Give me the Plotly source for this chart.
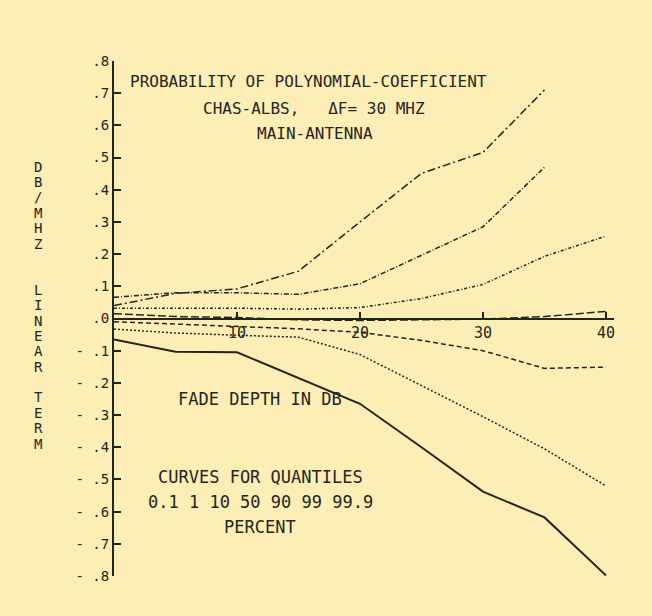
import plotly.graph_objects as go

# ---- data ----
fade_depth = [0, 5, 10, 15, 20, 25, 30, 35, 40]
q_0_1 = [-0.065, -0.103, -0.105, -0.185, -0.265, -0.400, -0.538, -0.618, -0.798]
q_1 = [-0.033, -0.045, -0.052, -0.058, -0.112, -0.208, -0.305, -0.405, -0.520]
q_10 = [-0.010, -0.018, -0.024, -0.032, -0.043, -0.068, -0.100, -0.155, -0.151]
q_50 = [0.015, 0.006, 0.003, -0.004, -0.006, -0.004, -0.002, 0.006, 0.022]
q_90 = [0.032, 0.032, 0.032, 0.029, 0.034, 0.062, 0.106, 0.193, 0.256]
q_99 = [0.066, 0.080, 0.080, 0.075, 0.108, 0.197, 0.285, 0.470, None]
q_99_9 = [0.040, 0.078, 0.092, 0.147, 0.300, 0.451, 0.516, 0.710, None]

quantile_names = ["0.1", "1", "10", "50", "90", "99", "99.9"]
series = [q_0_1, q_1, q_10, q_50, q_90, q_99, q_99_9]

x_tickvals = [10, 20, 30, 40]
x_ticktext = ["10", "20", "30", "40"]
y_tickvals = [0.8, 0.7, 0.6, 0.5, 0.4, 0.3, 0.2, 0.1, 0.0,
              -0.1, -0.2, -0.3, -0.4, -0.5, -0.6, -0.7, -0.8]
y_ticktext = [".8", ".7", ".6", ".5", ".4", ".3", ".2", ".1", ".0",
              "-\u00a0.1", "-\u00a0.2", "-\u00a0.3", "-\u00a0.4",
              "-\u00a0.5", "-\u00a0.6", "-\u00a0.7", "-\u00a0.8"]

title_lines = ["PROBABILITY OF POLYNOMIAL-COEFFICIENT",
               "CHAS-ALBS,\u00a0\u00a0\u00a0\u0394F=\u00a030\u00a0MHZ",
               "MAIN-ANTENNA"]
note_lines = ["FADE DEPTH IN DB", "CURVES FOR QUANTILES",
              "0.1 1 10 50 90 99 99.9", "PERCENT"]
y_label = "DB/MHZ  LINEAR TERM"

# ---- styling ----
ink = "#262422"
bg = "rgb(252,238,180)"
font = "DejaVu Sans Mono"
styles = [
    dict(dash="solid", width=2.0),
    dict(dash="2px,2px", width=1.5),
    dict(dash="5px,3px", width=1.5),
    dict(dash="8px,3px", width=1.5),
    dict(dash="3px,2px,1px,2px", width=1.5),
    dict(dash="5px,2px,1px,2px", width=1.5),
    dict(dash="8px,3px,2px,3px", width=1.5),
]

fig = go.Figure()
for name, ys, st in zip(quantile_names, series, styles):
    fig.add_trace(go.Scatter(
        x=fade_depth, y=ys, mode="lines", name=name + " %",
        line=dict(color=ink, dash=st["dash"], width=st["width"]),
        connectgaps=False, showlegend=False))

fig.update_layout(
    width=652, height=616,
    margin=dict(l=114, r=38, t=61, b=40, autoexpand=False),
    paper_bgcolor=bg, plot_bgcolor=bg,
    font=dict(family=font, color=ink),
    xaxis=dict(range=[0, 40.65], anchor="free", position=0.5, side="bottom",
               showline=True, linecolor=ink, linewidth=2,
               ticks="inside", ticklen=6, tickwidth=1.5, tickcolor=ink,
               tickvals=x_tickvals, ticktext=x_ticktext,
               tickfont=dict(family=font, size=15, color=ink),
               showgrid=False, zeroline=False),
    yaxis=dict(range=[-0.8, 0.8], showline=True, linecolor=ink, linewidth=2,
               ticks="inside", ticklen=7, tickwidth=1.5, tickcolor=ink,
               tickvals=y_tickvals, ticktext=y_ticktext,
               tickfont=dict(family=font, size=14, color=ink),
               showgrid=False, zeroline=False),
)

# title block (data coords)
title_pos = [(15.85, 0.736), (16.26, 0.652), (16.34, 0.575)]
for txt, (xx, yy) in zip(title_lines, title_pos):
    fig.add_annotation(x=xx, y=yy, xref="x", yref="y", text=txt, showarrow=False,
                       xanchor="center", yanchor="middle",
                       font=dict(family=font, size=16, color=ink))

note_pos = [(11.87, -0.2516), (11.87, -0.492), (11.87, -0.571), (11.87, -0.6475)]
for txt, (xx, yy) in zip(note_lines, note_pos):
    fig.add_annotation(x=xx, y=yy, xref="x", yref="y", text=txt, showarrow=False,
                       xanchor="center", yanchor="middle",
                       font=dict(family=font, size=17, color=ink))

# vertical stacked y label
for i, ch in enumerate(y_label):
    if ch == " ":
        continue
    py = 166 + 15.4 * i
    fig.add_annotation(x=-0.152, y=(318 - py) / 322, xref="paper", yref="y",
                       text=ch, showarrow=False, xanchor="center", yanchor="middle",
                       font=dict(family=font, size=14, color=ink))

fig.write_html(
    "out.html",
    config={"displayModeBar": False},
    post_script="document.body.style.margin='0';"
                "document.body.style.background='rgb(252,238,180)';"
                "document.body.style.overflow='hidden';")
